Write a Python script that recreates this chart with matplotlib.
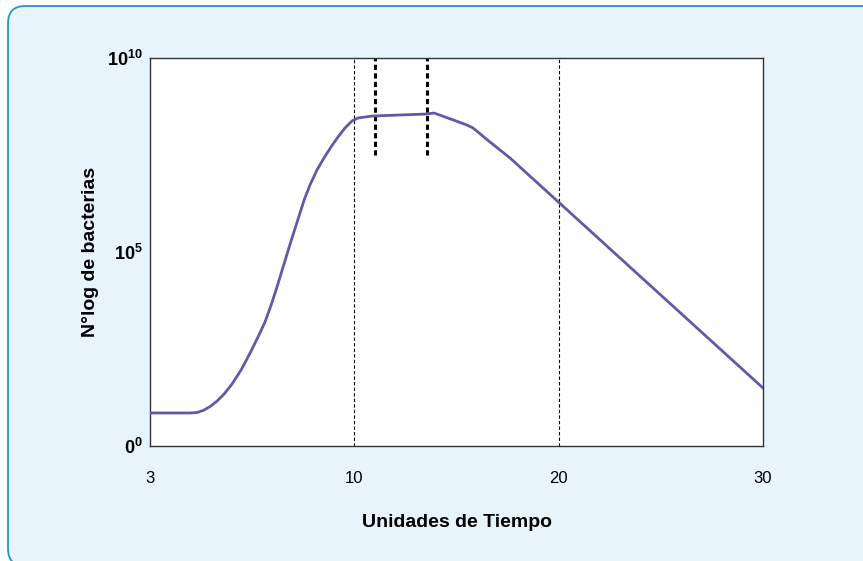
import numpy as np
import matplotlib.pyplot as plt
from matplotlib.patches import FancyBboxPatch

plt.rcParams['font.family'] = ['Liberation Sans', 'DejaVu Sans']
plt.rcParams['mathtext.fontset'] = 'custom'
plt.rcParams['mathtext.rm'] = 'Liberation Sans'
plt.rcParams['mathtext.bf'] = 'Liberation Sans:bold'

# growth curve: time units vs log10 of bacteria count
tiempo = [3.0, 4.37, 4.61, 4.82, 5.06, 5.30, 5.54, 5.81, 6.12, 6.43, 6.70,
          6.94, 7.15, 7.35, 7.56, 7.80, 8.04, 8.28, 8.48, 8.72, 8.96, 9.20,
          9.44, 9.68, 9.92, 10.18, 10.91, 13.56, 13.90, 14.78, 15.51, 15.81,
          16.64, 17.62, 30.0]
log_bact = [0.851, 0.851, 0.863, 0.915, 1.018, 1.160, 1.340, 1.598, 1.959,
            2.397, 2.809, 3.196, 3.634, 4.098, 4.613, 5.206, 5.773, 6.340,
            6.727, 7.113, 7.423, 7.706, 7.964, 8.196, 8.376, 8.454, 8.505,
            8.557, 8.582, 8.415, 8.273, 8.196, 7.835, 7.423, 1.495]

x_ticks = [3, 10, 20, 30]
y_ticks = [1, 1e5, 1e10]
y_ticklabels = [r'$\mathbf{0^0}$', r'$\mathbf{10^5}$', r'$\mathbf{10^{10}}$']
fase_lines = [10, 20]          # thin dashed
fase_marks = [11.0, 13.56]     # thick dashed, top part only
fase_mark_bottom = 10 ** 7.5

# time axis with equal spacing between 3, 10, 20, 30
pos = [0, 1, 2, 3]
def fwd(t):
    return np.interp(t, x_ticks, pos)
def inv(p):
    return np.interp(p, pos, x_ticks)

fig = plt.figure(figsize=(8.63, 5.61), dpi=100, facecolor='white')

panel = FancyBboxPatch((8 / 863, -5 / 561), 880 / 863, 560 / 561,
                       boxstyle='round,pad=0,rounding_size=0.02',
                       transform=fig.transFigure, facecolor='#e8f4fc',
                       edgecolor='#1e9ac0', linewidth=1.3,
                       mutation_aspect=863 / 561, zorder=-10)
fig.patches.append(panel)

ax = fig.add_axes([150 / 863, 115 / 561, 613 / 863, 388 / 561], zorder=5)
ax.set_facecolor('white')
ax.set_xscale('function', functions=(fwd, inv))
ax.set_yscale('log')
ax.set_xlim(3, 30)
ax.set_ylim(1, 1e10)

ax.plot(tiempo, 10 ** np.array(log_bact), color='#6459a8', linewidth=2, zorder=3)

for t in fase_lines:
    ax.axvline(t, color='black', linewidth=0.8, linestyle=(0, (3, 2)), zorder=2)
for t in fase_marks:
    ax.plot([t, t], [fase_mark_bottom, 1e10], color='black', linewidth=2.2,
            linestyle=(0, (1.7, 1.1)), zorder=2)

ax.set_xticks(x_ticks)
ax.set_xticklabels([str(v) for v in x_ticks])
ax.set_yticks(y_ticks)
ax.set_yticklabels(y_ticklabels)
ax.minorticks_off()
ax.tick_params(axis='x', length=0, pad=18, labelsize=12)
ax.tick_params(axis='y', length=0, pad=5, labelsize=13)

for s in ax.spines.values():
    s.set_color('#333333')
    s.set_linewidth(1)

ax.set_xlabel('Unidades de Tiempo', fontsize=14, fontweight='bold', labelpad=20)
ax.set_ylabel('N°log de bacterias', fontsize=14, fontweight='bold', labelpad=6)

fig.savefig('out.png', dpi=100)
